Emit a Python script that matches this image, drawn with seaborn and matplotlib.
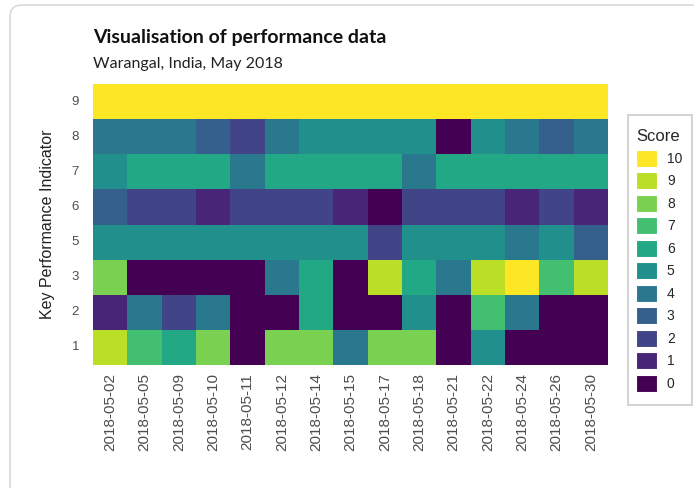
import pandas as pd
import matplotlib.pyplot as plt
import seaborn as sns
import numpy as np
from matplotlib.colors import ListedColormap
from matplotlib.patches import Patch, FancyBboxPatch, Rectangle
from matplotlib.transforms import IdentityTransform

# 数据：日期、KPI编号、每个KPI在每天的得分
dates = ['2018-05-02', '2018-05-05', '2018-05-09', '2018-05-10', '2018-05-11',
         '2018-05-12', '2018-05-14', '2018-05-15', '2018-05-17', '2018-05-18',
         '2018-05-21', '2018-05-22', '2018-05-24', '2018-05-26', '2018-05-30']
kpis = ['9', '8', '7', '6', '5', '3', '2', '1']

kpi9 = [10, 10, 10, 10, 10, 10, 10, 10, 10, 10, 10, 10, 10, 10, 10]
kpi8 = [4, 4, 4, 3, 2, 4, 5, 5, 5, 5, 0, 5, 4, 3, 4]
kpi7 = [5, 6, 6, 6, 4, 6, 6, 6, 6, 4, 6, 6, 6, 6, 6]
kpi6 = [3, 2, 2, 1, 2, 2, 2, 1, 0, 2, 2, 2, 1, 2, 1]
kpi5 = [5, 5, 5, 5, 5, 5, 5, 5, 2, 5, 5, 5, 4, 5, 3]
kpi3 = [8, 0, 0, 0, 0, 4, 6, 0, 9, 6, 4, 9, 10, 7, 9]
kpi2 = [1, 4, 2, 4, 0, 0, 6, 0, 0, 5, 0, 7, 4, 0, 0]
kpi1 = [9, 7, 6, 8, 0, 8, 8, 4, 8, 8, 0, 5, 0, 0, 0]

scores = list(range(11))

df = pd.DataFrame([kpi9, kpi8, kpi7, kpi6, kpi5, kpi3, kpi2, kpi1],
                  index=kpis, columns=dates)

# viridis 离散调色板（11个等级）
colors = ['#440154', '#482576', '#414487', '#35608D', '#2A788E', '#21908C',
          '#22A884', '#43BF71', '#7AD151', '#BBDF27', '#FDE725']
cmap = ListedColormap(colors)

sns.set_style('white')
plt.rcParams['font.family'] = ['Liberation Sans', 'DejaVu Sans']

fig = plt.figure(figsize=(6.94, 4.88), dpi=100)
ax = fig.add_axes([93 / 694, 1 - 365 / 488, 515 / 694, 281 / 488])

sns.heatmap(df, cmap=cmap, vmin=-0.5, vmax=10.5, cbar=False, ax=ax,
            linewidths=0)

ax.set_xlabel('')
ax.set_ylabel('Key Performance Indicator', fontsize=11.5, color='#222222',
              labelpad=12)
ax.tick_params(axis='x', labelsize=11, colors='#4D4D4D', length=0, pad=6,
               labelrotation=90)
ax.tick_params(axis='y', labelsize=9.5, colors='#4D4D4D', length=0, pad=10,
               labelrotation=0)

# 标题和副标题
fig.text(93 / 694, 1 - 37 / 488, 'Visualisation of performance data',
         fontsize=14, fontweight='bold', family=['Lato', 'DejaVu Sans'],
         va='center', ha='left', color='#111111')
fig.text(93 / 694, 1 - 64 / 488, 'Warangal, India, May 2018',
         fontsize=11.5, family=['Lato', 'DejaVu Sans'],
         va='center', ha='left', color='#222222')

# 图例：从高分到低分（边框单独画）
handles = [Patch(facecolor=colors[s], edgecolor='white', linewidth=0.8)
           for s in reversed(scores)]
labels = [str(s) for s in reversed(scores)]
leg = fig.legend(handles, labels, title='Score', loc='upper left',
                 bbox_to_anchor=(628 / 694, 1 - 121 / 488), borderaxespad=0,
                 fontsize=10, title_fontsize=12, frameon=False,
                 handlelength=1.5, handleheight=1.5,
                 labelspacing=0.4, handletextpad=0.7, borderpad=0.6,
                 alignment='left')

legend_box = Rectangle((628, 488 - 405), 64, 290, transform=IdentityTransform(),
                       facecolor='none', edgecolor='#CCCCCC', linewidth=1.2)
fig.patches.append(legend_box)

# 外层圆角卡片边框
card = FancyBboxPatch((10, -20), 720, 488 - 5 + 20,
                      boxstyle='round,pad=0,rounding_size=12',
                      transform=IdentityTransform(), facecolor='none',
                      edgecolor='#D9D9D9', linewidth=1.2)
fig.patches.append(card)

plt.savefig('out.png', dpi=100)
